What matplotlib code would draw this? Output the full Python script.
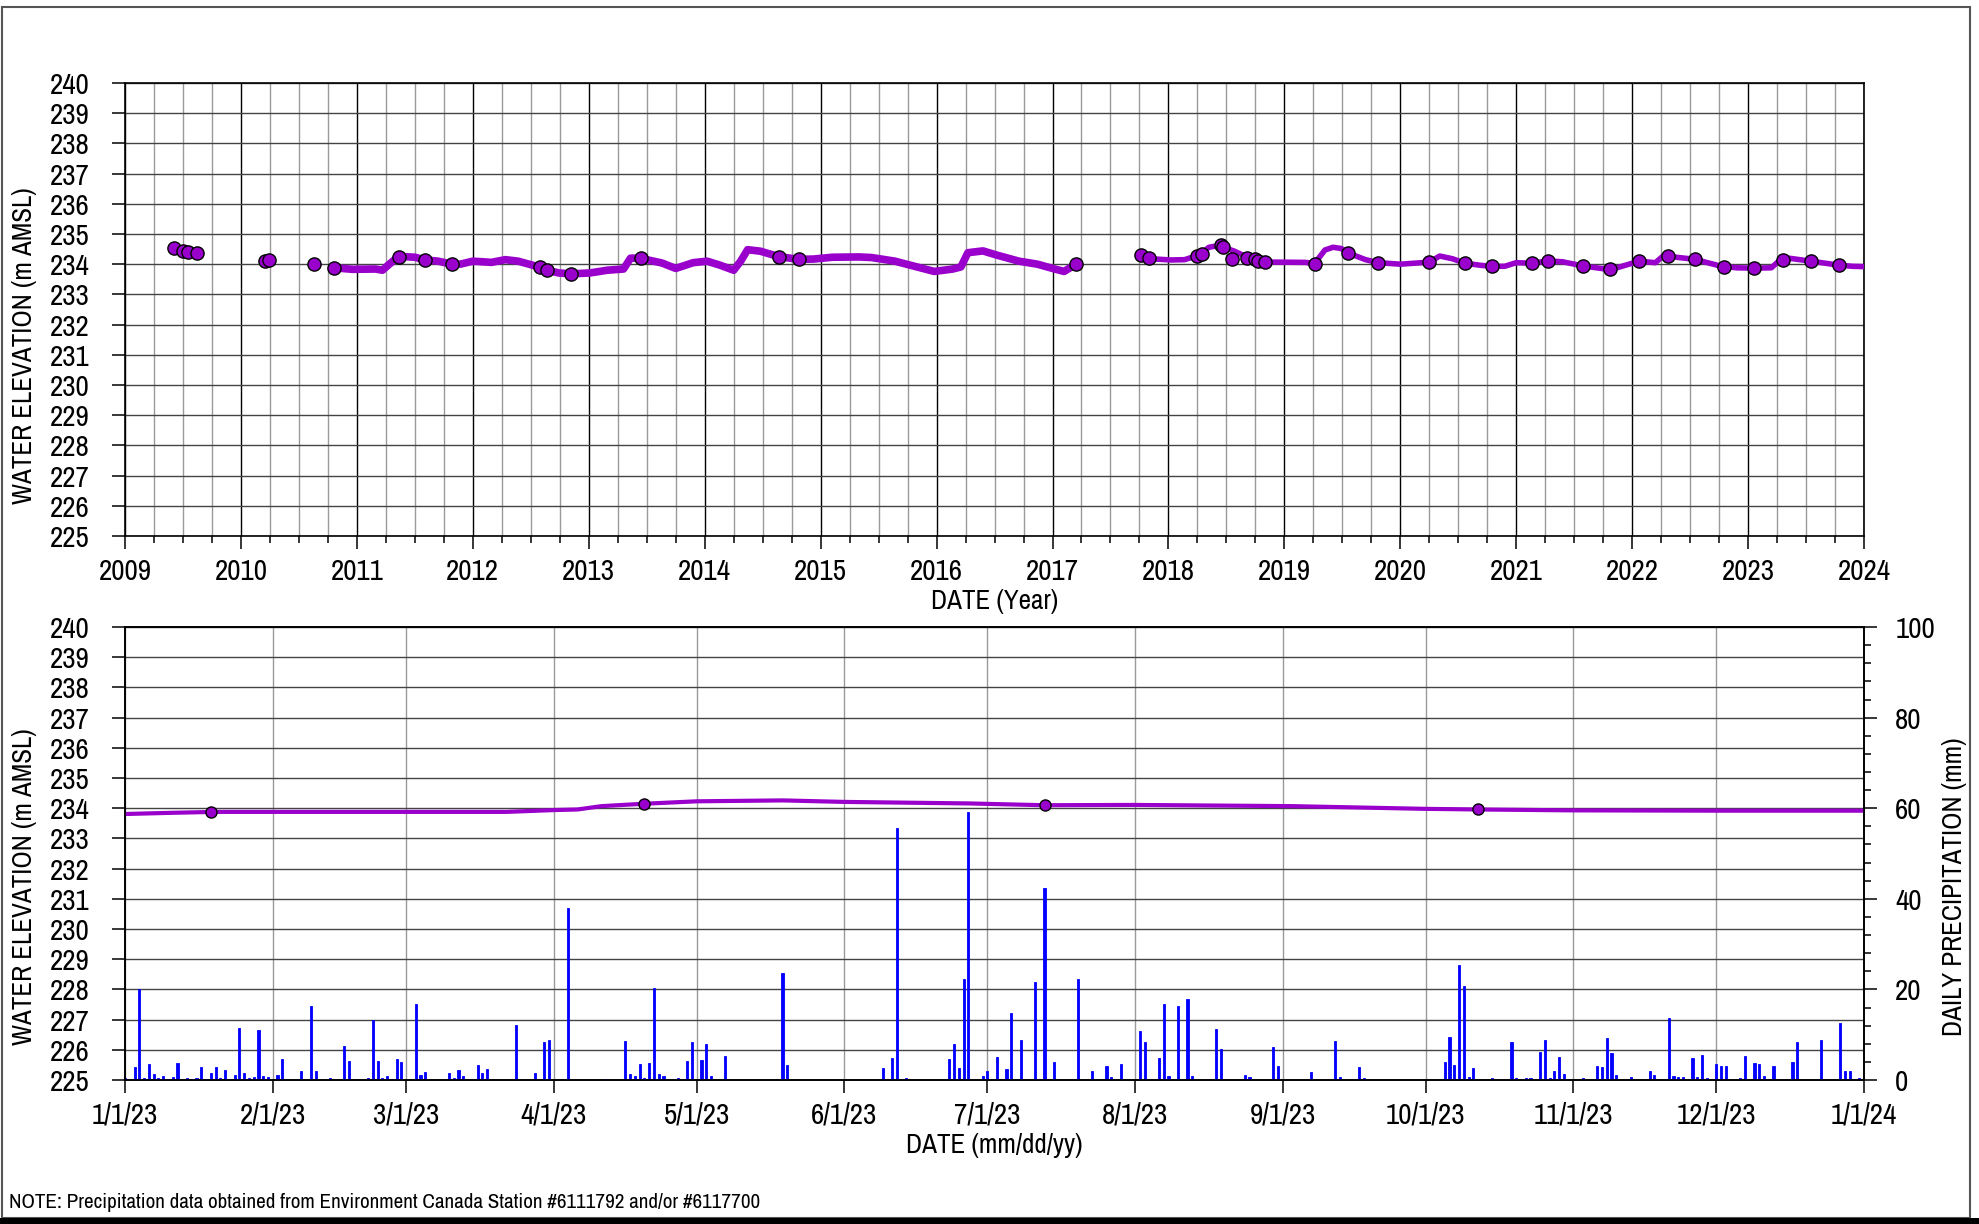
import datetime as dt

import numpy as np
import pandas as pd
import matplotlib
matplotlib.use("Agg")
import matplotlib.pyplot as plt
import matplotlib.dates as mdates
import matplotlib.ticker as mticker
from matplotlib.patches import Rectangle

plt.rcParams["font.family"] = ["Archivo Narrow", "Liberation Sans", "DejaVu Sans"]

PURPLE = "#9900CC"
BLUE = "#0000FF"
TICK_FS = 21
LABEL_FS = 19.5

# ── Long-term record (decimal year, m AMSL) ───────────────────
logger1_year = [2010.81, 2010.96, 2011.16, 2011.22, 2011.27, 2011.36, 2011.50, 2011.59,
                2011.70, 2011.82, 2011.89, 2012.00, 2012.16, 2012.28, 2012.39, 2012.58,
                2012.64, 2012.74, 2012.85, 2013.01, 2013.16, 2013.30, 2013.36, 2013.44,
                2013.63, 2013.75, 2013.90, 2014.02, 2014.13, 2014.25, 2014.31, 2014.37,
                2014.48, 2014.64, 2014.81, 2014.94, 2015.10, 2015.33, 2015.44, 2015.64,
                2015.83, 2015.98, 2016.14, 2016.21, 2016.27, 2016.40, 2016.52, 2016.71,
                2016.87, 2017.00, 2017.10, 2017.16, 2017.20]
logger1_elev = [233.88, 233.83, 233.84, 233.80, 233.97, 234.26, 234.23, 234.14,
                234.10, 234.00, 234.00, 234.10, 234.06, 234.15, 234.10, 233.90,
                233.80, 233.71, 233.68, 233.71, 233.80, 233.84, 234.20, 234.20,
                234.04, 233.86, 234.05, 234.10, 233.97, 233.80, 234.10, 234.48,
                234.43, 234.25, 234.16, 234.17, 234.23, 234.24, 234.22, 234.10,
                233.91, 233.76, 233.84, 233.91, 234.38, 234.44, 234.30, 234.10,
                234.00, 233.86, 233.76, 233.90, 234.00]

logger2_year = [2017.89, 2018.02, 2018.14, 2018.26, 2018.35, 2018.45, 2018.47, 2018.57,
                2018.68, 2018.80, 2018.87, 2019.18, 2019.26, 2019.35, 2019.42, 2019.49,
                2019.55, 2019.70, 2019.81, 2020.00, 2020.15, 2020.25, 2020.34, 2020.45,
                2020.56, 2020.70, 2020.79, 2020.90, 2021.00, 2021.14, 2021.27, 2021.40,
                2021.58, 2021.75, 2021.85, 2022.06, 2022.20, 2022.27, 2022.31, 2022.45,
                2022.54, 2022.75, 2022.90, 2023.05, 2023.20, 2023.28, 2023.35, 2023.54,
                2023.78, 2023.90, 2024.00]
logger2_elev = [234.17, 234.14, 234.15, 234.30, 234.56, 234.63, 234.56, 234.43,
                234.23, 234.08, 234.07, 234.06, 234.02, 234.47, 234.56, 234.52,
                234.37, 234.15, 234.05, 234.00, 234.04, 234.07, 234.27, 234.18,
                234.03, 233.96, 233.93, 233.93, 234.05, 234.03, 234.11, 234.08,
                233.94, 233.85, 233.86, 234.10, 234.05, 234.28, 234.26, 234.20,
                234.16, 233.95, 233.88, 233.87, 233.88, 234.15, 234.20, 234.10,
                233.97, 233.93, 233.92]

manual_year = [2009.42, 2009.50, 2009.54, 2009.62, 2010.21, 2010.24, 2010.63, 2010.80,
               2011.36, 2011.59, 2011.82, 2012.58, 2012.64, 2012.85, 2013.45, 2014.64,
               2014.81, 2017.20, 2017.76, 2017.83, 2018.25, 2018.29, 2018.45, 2018.47,
               2018.55, 2018.68, 2018.75, 2018.77, 2018.83, 2019.26, 2019.55, 2019.81,
               2020.25, 2020.56, 2020.79, 2021.14, 2021.27, 2021.58, 2021.81, 2022.06,
               2022.31, 2022.54, 2022.79, 2023.05, 2023.30, 2023.54, 2023.78]
manual_elev = [234.52, 234.45, 234.40, 234.37, 234.09, 234.14, 234.01, 233.88,
               234.25, 234.14, 234.00, 233.90, 233.80, 233.68, 234.20, 234.25,
               234.16, 234.01, 234.30, 234.20, 234.26, 234.35, 234.63, 234.56,
               234.18, 234.22, 234.16, 234.10, 234.07, 234.02, 234.37, 234.05,
               234.07, 234.03, 233.93, 234.03, 234.11, 233.94, 233.85, 234.10,
               234.26, 234.16, 233.91, 233.87, 234.15, 234.10, 233.97]

# ── 2023 record (days after 2023-01-01) ───────────────────────
level_day = [0, 10, 19, 31, 60, 80, 90, 95, 100, 109, 120, 138, 151, 177, 193,
             212, 245, 273, 284, 304, 334, 365]
level_elev = [233.81, 233.85, 233.88, 233.88, 233.88, 233.88, 233.94, 233.96, 234.07,
              234.15, 234.23, 234.26, 234.21, 234.16, 234.10, 234.11, 234.07, 233.98,
              233.96, 233.93, 233.92, 233.92]

manual23_date = ["2023-01-19", "2023-04-20", "2023-07-13", "2023-10-12"]
manual23_elev = [233.88, 234.15, 234.10, 233.96]

rain_day = [0, 2, 3, 4, 5, 6, 7, 8, 9, 10, 11, 13, 14, 15, 16, 17, 18, 19, 20, 21,
            22, 23, 24, 25, 26, 27, 28, 29, 30, 32, 33, 37, 39, 40, 43, 46, 47, 51,
            52, 53, 54, 55, 56, 57, 58, 61, 62, 63, 68, 69, 70, 71, 74, 75, 76, 82,
            86, 88, 89, 93, 101, 105, 106, 107, 108, 109, 110, 111, 112, 113, 116,
            118, 119, 121, 122, 123, 126, 138, 139, 159, 161, 162, 164, 173, 174,
            175, 176, 177, 180, 181, 183, 185, 186, 188, 191, 192, 193, 195, 200,
            203, 206, 207, 209, 213, 214, 217, 218, 219, 221, 223, 224, 229, 230,
            235, 236, 241, 242, 249, 254, 255, 259, 260, 277, 278, 279, 280, 281,
            282, 283, 287, 291, 292, 294, 295, 297, 298, 299, 300, 301, 302, 306,
            309, 310, 311, 312, 313, 316, 320, 321, 324, 325, 326, 327, 329, 330,
            331, 332, 334, 335, 336, 339, 340, 342, 343, 344, 346, 350, 351, 356,
            360, 361, 362, 364]
rain_mm = [0.5, 2.9, 20.2, 0.4, 3.5, 1.3, 0.4, 1.0, 0.2, 0.7, 3.8, 0.4, 0.2, 0.4, 2.9,
           0.2, 1.5, 2.9, 0.4, 2.2, 0.2, 1.1, 11.5, 1.6, 0.5, 0.7, 11.0, 1.0, 0.7, 1.1,
           4.6, 1.9, 16.3, 1.9, 0.4, 7.5, 4.1, 0.5, 13.2, 4.1, 0.4, 0.9, 0.2, 4.6, 4.0,
           16.9, 1.1, 1.8, 1.6, 0.4, 2.2, 1.0, 3.4, 1.6, 2.5, 12.1, 1.5, 8.5, 8.8,
           38.0, 0.3, 8.7, 1.3, 0.9, 3.5, 0.4, 3.8, 20.4, 1.4, 1.0, 0.4, 4.3, 8.5, 4.5,
           7.9, 0.9, 5.4, 23.7, 3.4, 2.6, 4.8, 55.7, 0.5, 4.6, 7.9, 2.6, 22.4, 59.2,
           1.0, 2.1, 5.0, 2.4, 14.9, 8.8, 21.7, 0.3, 42.5, 4.0, 22.3, 2.0, 3.2, 0.6,
           3.5, 10.9, 8.5, 4.8, 16.9, 0.9, 16.3, 17.8, 1.0, 11.3, 6.8, 1.1, 0.7, 7.3,
           3.1, 1.8, 8.6, 0.6, 2.9, 0.4, 4.0, 9.4, 3.3, 25.5, 20.8, 0.7, 2.6, 0.4,
           8.4, 0.4, 0.4, 0.4, 6.2, 8.8, 0.4, 2.1, 5.2, 1.4, 0.5, 3.1, 2.9, 9.3, 6.0,
           1.2, 0.7, 1.9, 1.1, 13.8, 0.9, 0.6, 0.7, 4.8, 0.7, 5.5, 0.4, 3.6, 3.2, 3.2,
           0.4, 5.4, 3.8, 3.6, 0.9, 3.0, 3.9, 8.3, 8.8, 12.5, 2.1, 2.1, 0.5]

START = pd.Timestamp("2023-01-01")
days = pd.date_range(START, periods=365, freq="D")
daily = np.zeros(len(days))
daily[rain_day] = rain_mm
level_dates = [START + pd.Timedelta(days=d) for d in level_day]
manual23_dates = pd.to_datetime(manual23_date)


# ── Helpers ───────────────────────────────────────────────────
def _axis_style(ax):
    for s in ax.spines.values():
        s.set_color("black")
        s.set_linewidth(1.2)
    ax.tick_params(which="major", direction="out", length=9.5, width=1.1,
                   labelsize=TICK_FS, color="black")
    ax.tick_params(which="minor", direction="out", length=5, width=1.1, color="black")
    ax.tick_params(axis="y", pad=16)
    ax.tick_params(axis="x", pad=6)
    ax.set_axisbelow(True)


def _ylabel(ax, text, x, y):
    ax.set_ylabel(text, fontsize=LABEL_FS)
    ax.yaxis.label.set_va("center")
    ax.yaxis.set_label_coords(x, y)


fig = plt.figure(figsize=(19.79, 12.24), dpi=100)

# ── Top: full record ──────────────────────────────────────────
ax1 = fig.add_axes([0.0632, 0.5621, 0.8787, 0.3701])
ax1.plot(logger1_year, logger1_elev, color=PURPLE, lw=5.5, solid_joinstyle="round", zorder=3)
ax1.plot(logger2_year, logger2_elev, color=PURPLE, lw=4.0, solid_joinstyle="round", zorder=3)
ax1.plot(manual_year, manual_elev, "o", color=PURPLE, mec="black", mew=1.0, ms=9.5, zorder=4)
ax1.set_xlim(2009, 2024)
ax1.set_ylim(225, 240)
ax1.set_xticks(range(2009, 2025))
ax1.xaxis.set_minor_locator(mticker.MultipleLocator(0.25))
ax1.set_yticks(range(225, 241))
ax1.grid(which="major", axis="x", color="black", lw=1.0)
ax1.grid(which="minor", axis="x", color="#9a9a9a", lw=1.0)
ax1.grid(which="major", axis="y", color="#444444", lw=1.0)
_axis_style(ax1)
ax1.set_xlabel("DATE (Year)", fontsize=LABEL_FS, labelpad=3)
_ylabel(ax1, "WATER ELEVATION (m AMSL)", -0.058, 0.42)

# ── Bottom: 2023 with precipitation ───────────────────────────
ax2 = fig.add_axes([0.0632, 0.1176, 0.8787, 0.3701])
ax2.plot(level_dates, level_elev, color=PURPLE, lw=3.0, zorder=3)
ax2.plot(manual23_dates, manual23_elev, "o", color=PURPLE, mec="black", mew=1.0, ms=8,
         zorder=4)
ax2.set_xlim(START, pd.Timestamp("2024-01-01"))
ax2.set_ylim(225, 240)
ax2.set_yticks(range(225, 241))
ax2.set_xticks(pd.date_range(START, "2024-01-01", freq="MS"))
ax2.xaxis.set_major_formatter(mticker.FuncFormatter(
    lambda x, _: (lambda d: f"{d.month}/{d.day}/{d:%y}")(mdates.num2date(x))))
ax2.grid(which="major", axis="x", color="#9a9a9a", lw=1.0)
ax2.grid(which="major", axis="y", color="#444444", lw=1.0)
_axis_style(ax2)
ax2.set_xlabel("DATE (mm/dd/yy)", fontsize=LABEL_FS, labelpad=3)
_ylabel(ax2, "WATER ELEVATION (m AMSL)", -0.058, 0.426)

ax3 = ax2.twinx()
ax3.bar(days, daily, width=0.45, color=BLUE, edgecolor=BLUE, linewidth=0.6, zorder=2)
ax3.set_ylim(0, 100)
ax3.yaxis.set_major_locator(mticker.MultipleLocator(20))
ax3.yaxis.set_minor_locator(mticker.MultipleLocator(4))
_axis_style(ax3)
ax3.tick_params(axis="y", pad=13)
_ylabel(ax3, "DAILY PRECIPITATION (mm)", 1.0518, 0.426)

# ── Note and frame ────────────────────────────────────────────
fig.text(9 / 1979, 1 - 1203 / 1224,
         "NOTE: Precipitation data obtained from Environment Canada Station #6111792 and/or #6117700",
         fontsize=15.2, va="center", ha="left")
fig.add_artist(Rectangle((2 / 1979, 6 / 1224), 1968 / 1979, 1211 / 1224,
                         transform=fig.transFigure, fill=False, edgecolor="#555555", lw=1.5))
fig.add_artist(Rectangle((0, 0), 1, 6 / 1224, transform=fig.transFigure,
                         facecolor="black", edgecolor="none"))

fig.savefig("out.png", dpi=100, facecolor="white")
